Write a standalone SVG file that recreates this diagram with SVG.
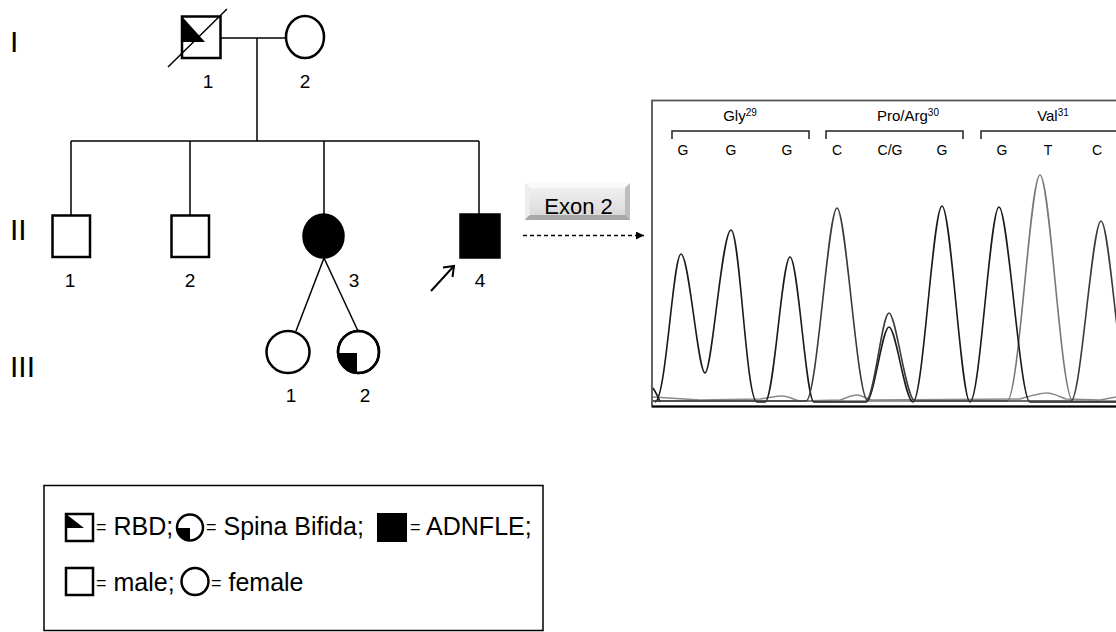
<svg xmlns="http://www.w3.org/2000/svg" width="1116" height="632" viewBox="0 0 1116 632">
<style>
text{font-family:"Liberation Sans",Arial,sans-serif;fill:#000}
.gen{font-size:30px}
.num{font-size:19px;text-anchor:middle}
.sym{fill:#fff;stroke:#000;stroke-width:2.5}
.aff{fill:#000;stroke:#000;stroke-width:2.5}
.ln{stroke:#000;stroke-width:1.5;fill:none}
.lab{font-size:15px;text-anchor:middle}
.base{font-size:14px;text-anchor:middle}
.br{stroke:#222;stroke-width:1.5;fill:none}
.tr{fill:none;stroke-width:1.6}
.leg{font-size:25px}
.eq{font-size:18px}
</style>
<defs>
<linearGradient id="btn" x1="0" y1="0" x2="0" y2="1">
<stop offset="0" stop-color="#f2f2f2"/>
<stop offset="1" stop-color="#a9a9a9"/>
</linearGradient>
<linearGradient id="btnIn" x1="0" y1="0" x2="0" y2="1">
<stop offset="0" stop-color="#f0f0f0"/>
<stop offset="1" stop-color="#dadada"/>
</linearGradient>
<marker id="ah" viewBox="0 0 10 10" refX="10" refY="5" markerWidth="8" markerHeight="8" markerUnits="userSpaceOnUse" orient="auto">
<path d="M0,0 L10,5 L0,10 Z" fill="#000"/>
</marker>
<clipPath id="c32"><ellipse cx="358.5" cy="352" rx="20.5" ry="21"/></clipPath>
<clipPath id="lc"><circle cx="190" cy="527.5" r="13"/></clipPath>
</defs>

<!-- generation labels -->
<text class="gen" x="10" y="52">I</text>
<text class="gen" x="10" y="240">II</text>
<text class="gen" x="10" y="377">III</text>

<!-- connectors -->
<g id="connectors">
<line class="ln" x1="221" y1="38" x2="285" y2="38"/>
<line class="ln" x1="257" y1="38" x2="257" y2="141"/>
<line class="ln" x1="71" y1="141" x2="479" y2="141"/>
<line class="ln" x1="71" y1="141" x2="71" y2="215"/>
<line class="ln" x1="190" y1="141" x2="190" y2="215"/>
<line class="ln" x1="324" y1="141" x2="324" y2="214"/>
<line class="ln" x1="479" y1="141" x2="479" y2="214"/>
<line class="ln" x1="324" y1="258" x2="296" y2="331"/>
<line class="ln" x1="324" y1="258" x2="358" y2="331"/>
<line x1="523" y1="235.5" x2="644" y2="235.5" stroke="#000" stroke-width="1.5" stroke-dasharray="4 3" marker-end="url(#ah)"/>
</g>

<!-- Generation I -->
<g id="I-1">
<rect class="sym" x="182" y="16.5" width="38.5" height="41.5"/>
<path d="M182,16.5 L182,42 L205,42 Z" fill="#000"/>
<line class="ln" x1="168" y1="67" x2="227" y2="9"/>
<text class="num" x="208" y="88">1</text>
</g>
<g id="I-2">
<ellipse class="sym" cx="305" cy="37" rx="19" ry="21"/>
<text class="num" x="305" y="88">2</text>
</g>

<!-- Generation II -->
<g id="II-1">
<rect class="sym" x="52.5" y="215.5" width="37.5" height="41.5"/>
<text class="num" x="70" y="287">1</text>
</g>
<g id="II-2">
<rect class="sym" x="171.5" y="215.5" width="37.5" height="41.5"/>
<text class="num" x="190" y="287">2</text>
</g>
<g id="II-3">
<ellipse class="aff" cx="323.5" cy="236" rx="20" ry="21.5"/>
<text class="num" x="354" y="287">3</text>
</g>
<g id="II-4">
<rect class="aff" x="460.5" y="214.5" width="39" height="43"/>
<line x1="431" y1="291" x2="453" y2="267" stroke="#000" stroke-width="2"/>
<path d="M443,267.5 L454,266 L452.5,277" fill="none" stroke="#000" stroke-width="2"/>
<text class="num" x="480" y="287">4</text>
</g>

<!-- Generation III -->
<g id="III-1">
<ellipse class="sym" cx="288" cy="352" rx="21.5" ry="21"/>
<text class="num" x="291" y="402">1</text>
</g>
<g id="III-2">
<ellipse class="sym" cx="358.5" cy="352" rx="20.5" ry="21"/>
<rect x="338" y="353" width="19" height="22" fill="#000" clip-path="url(#c32)"/>
<ellipse cx="358.5" cy="352" rx="20.5" ry="21" fill="none" stroke="#000" stroke-width="2.5"/>
<text class="num" x="365" y="402">2</text>
</g>

<!-- Exon 2 button -->
<g id="exon2">
<rect x="525" y="183" width="105" height="37" fill="url(#btn)"/>
<path d="M525,183 H630 L625,188 H530 Z" fill="#fafafa"/>
<path d="M525,183 L530,188 V215 L525,220 Z" fill="#ececec"/>
<path d="M630,183 L625,188 V215 L630,220 Z" fill="#bdbdbd"/>
<path d="M525,220 L530,215 H625 L630,220 Z" fill="#a8a8a8"/>
<rect x="530" y="188" width="95" height="27" fill="url(#btnIn)"/>
<text x="578.5" y="214" font-size="22" text-anchor="middle">Exon 2</text>
</g>

<!-- Chromatogram -->
<g id="chromatogram">
<rect x="652" y="100.5" width="480" height="306" fill="#fff" stroke="#555" stroke-width="1.8"/>
<text class="lab" x="740" y="121">Gly<tspan font-size="10" dy="-5">29</tspan></text>
<text class="lab" x="908" y="121">Pro/Arg<tspan font-size="10" dy="-5">30</tspan></text>
<text class="lab" x="1053" y="121">Val<tspan font-size="10" dy="-5">31</tspan></text>
<path class="br" d="M672,139 V131 H809 V139"/>
<path class="br" d="M826,139 V131 H963 V139"/>
<path class="br" d="M981,139 V131 H1120"/>
<text class="base" x="683" y="155">G</text>
<text class="base" x="731" y="155">G</text>
<text class="base" x="787" y="155">G</text>
<text class="base" x="837" y="155">C</text>
<text class="base" x="890" y="155">C/G</text>
<text class="base" x="942" y="155">G</text>
<text class="base" x="1002" y="155">G</text>
<text class="base" x="1048" y="155">T</text>
<text class="base" x="1097" y="155">C</text>
<!-- baseline traces -->
<path class="tr" stroke="#8a8a8a" d="M653,397 L700,400 L760,399 C770,398 775,396 782,396 C789,396 794,400 800,401 L840,400 C848,397 852,395 857,395 C862,395 866,399 872,400 L1020,399 C1030,396 1040,393 1047,393 C1054,393 1060,397 1066,399 L1100,400 L1116,397"/>
<path class="tr" stroke="#777" d="M653,401 L1007,401 C1019,401 1030,175 1040,175 C1050,175 1061,401 1073,401 L1116,401"/>
<!-- G trace -->
<path class="tr" stroke="#1a1a1a" d="M653,388 C658,396 660,402 660,402 M655,402 C666,402 673,254 681,254 C689,254 698,373 705,373 C712,373 722,230 731,230 C740,230 746,402 757,402 L765,402 C774,402 782,257 790,257 C798,257 806,402 814,402 L866,402 C874,402 882,327 889,327 C896,327 905,402 913,402 C923,402 933,206 942,206 C951,206 961,402 970,402 C980,402 990,207 999,207 C1008,207 1020,402 1030,402 L1116,402"/>
<!-- C trace -->
<path class="tr" stroke="#3a3a3a" d="M653,401 L806,401 C817,401 828,208 837,208 C846,208 857,401 868,401 M866,401 C874,401 882,313 889,313 C896,313 906,401 915,401 L1071,401 C1081,401 1092,221 1101,221 C1110,221 1120,401 1131,401"/>
<line x1="652" y1="406.5" x2="1116" y2="406.5" stroke="#000" stroke-width="2"/>
</g>

<!-- Legend -->
<g id="legend">
<rect x="44" y="485.5" width="499" height="145" fill="#fff" stroke="#000" stroke-width="1.5"/>
<rect class="sym" x="66" y="514" width="27" height="27"/>
<path d="M66,514 L66,528 L84,528 Z" fill="#000"/>
<text class="leg" x="96" y="535"><tspan class="eq" dy="-2">=</tspan><tspan dy="2"> RBD;</tspan></text>
<circle cx="190" cy="527.5" r="13" fill="#fff"/>
<rect x="176" y="528" width="14" height="14" fill="#000" clip-path="url(#lc)"/>
<circle cx="190" cy="527.5" r="13" fill="none" stroke="#000" stroke-width="2.5"/>
<text class="leg" x="206" y="535"><tspan class="eq" dy="-2">=</tspan><tspan dy="2"> Spina Bifida;</tspan></text>
<rect x="377" y="513" width="30" height="29" fill="#000"/>
<text class="leg" x="410" y="535"><tspan class="eq" dy="-2">=</tspan><tspan dy="2"> ADNFLE;</tspan></text>
<rect class="sym" x="66" y="568" width="27" height="27"/>
<text class="leg" x="96" y="591"><tspan class="eq" dy="-2">=</tspan><tspan dy="2"> male;</tspan></text>
<circle cx="195" cy="581.5" r="13.5" fill="none" stroke="#000" stroke-width="2.5"/>
<text class="leg" x="211" y="591"><tspan class="eq" dy="-2">=</tspan><tspan dy="2"> female</tspan></text>
</g>
</svg>
